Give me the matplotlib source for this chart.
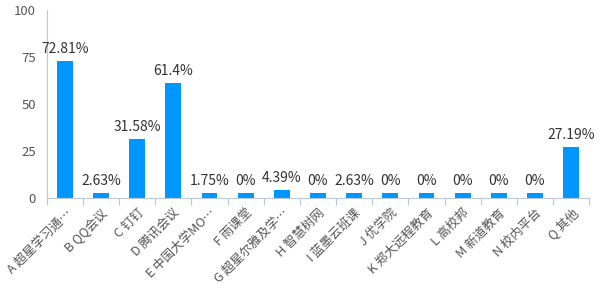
import numpy as np
import matplotlib.pyplot as plt

plt.rcParams['font.family'] = ['Noto Sans CJK SC', 'DejaVu Sans']

categories = ['A 超星学习通…', 'B QQ会议', 'C 钉钉', 'D 腾讯会议', 'E 中国大学MO…',
              'F 雨课堂', 'G 超星尔雅及学…', 'H 智慧树网', 'I 蓝墨云班课', 'J 优学院',
              'K 郑大远程教育', 'L 高校邦', 'M 新道教育', 'N 校内平台', 'Q 其他']
values = [72.81, 2.63, 31.58, 61.4, 1.75, 0, 4.39, 0, 2.63, 0, 0, 0, 0, 0, 27.19]
labels = ['72.81%', '2.63%', '31.58%', '61.4%', '1.75%', '0%', '4.39%', '0%',
          '2.63%', '0%', '0%', '0%', '0%', '0%', '27.19%']
    # survey percentages per platform

min_height = 2.63
    # bars never drawn shorter than this (like echarts barMinHeight)

axis_color = '#b8c8d8'
text_color = '#555555'

fig = plt.figure(figsize=(6, 3), dpi=100)
ax = fig.add_axes([0.078, 0.34, 0.904, 0.627])

x = np.arange(len(categories))
heights = np.maximum(values, min_height)
ax.bar(x, heights, width=0.44, color='#0096ff')
    # draw the bars

for xi, h, lab in zip(x, heights, labels):
    ax.text(xi, h + 2.5, lab, ha='center', va='bottom', fontsize=10,
            color='#333333', fontweight='light')
    # value labels above bars

ax.set_xlim(-0.5, len(categories) - 0.5)
ax.set_ylim(0, 100)
ax.set_yticks([0, 25, 50, 75, 100])
ax.tick_params(axis='y', length=0, labelsize=9.5, colors=text_color, pad=8)

ax.set_xticks(np.arange(len(categories) + 1) - 0.5, minor=False)
ax.set_xticklabels([])
ax.tick_params(axis='x', which='major', length=5, color=axis_color, direction='out')
ax.set_xticks(x, minor=True)
ax.set_xticklabels(categories, minor=True, rotation=45, ha='right',
                   rotation_mode='anchor', fontsize=9, color=text_color,
                   fontweight='light')
ax.tick_params(axis='x', which='minor', length=0, pad=6)
    # category labels rotated, ticks between categories

for side in ['top', 'right']:
    ax.spines[side].set_visible(False)
ax.spines['left'].set_color(axis_color)
ax.spines['bottom'].set_color(axis_color)

plt.savefig('out.png', dpi=100)
